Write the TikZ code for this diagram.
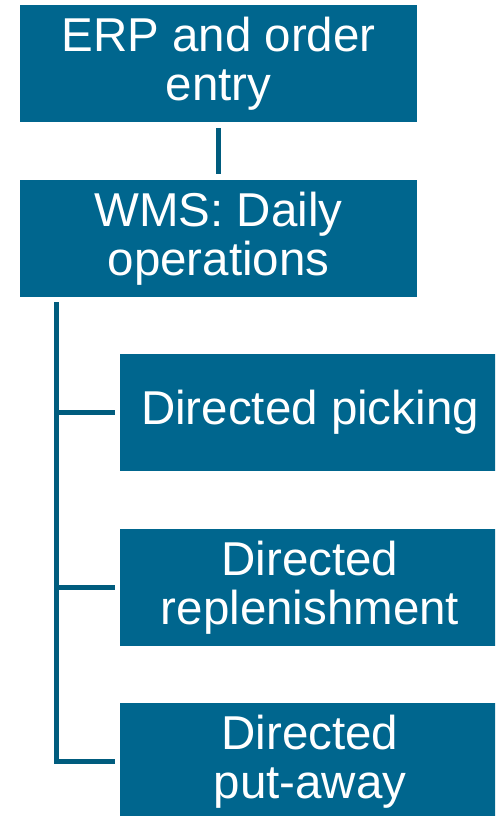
\documentclass[tikz,border=0pt]{standalone}
\usepackage{fontspec}
\setmainfont{Liberation Sans}
\definecolor{boxblue}{RGB}{0,102,142}
\definecolor{lineblue}{RGB}{0,92,126}
\tikzset{
  stagebox/.style={rectangle, fill=boxblue, inner sep=0pt, text=white,
    minimum height=117pt, align=center,
    font=\fontsize{47.5}{49.5}\selectfont},
  topbox/.style={stagebox, minimum width=397pt},
  subbox/.style={stagebox, minimum width=380pt},
  link/.style={draw=lineblue, line width=5pt}
}
\begin{document}
\begin{tikzpicture}[x=1pt, y=-1pt]
  \clip (0,0) rectangle (495,816);
  \fill[white] (0,0) rectangle (495,816);

  % upper chain
  \node[topbox] (erp) at (218.5,63.5) {ERP and order\\entry};
  \node[topbox] (wms) at (218.5,238.5) {WMS: Daily\\operations};

  % directed tasks
  \node[subbox] (pick) at (310,412.5) {Directed picking};
  \node[subbox] (repl) at (310,587.5) {Directed\\replenishment};
  \node[subbox] (put)  at (310,761.5) {Directed\\put-away};

  % connectors
  \draw[link, shorten <=6pt, shorten >=6pt] (erp.south) -- (wms.north);
  \coordinate (spine) at ([xshift=37pt, yshift=-5pt]wms.south west);
  \draw[link, line join=miter, shorten >=5pt] (spine) |- (put.west);
  \draw[link, shorten >=5pt] (spine |- pick.west) -- (pick.west);
  \draw[link, shorten >=5pt] (spine |- repl.west) -- (repl.west);
\end{tikzpicture}
\end{document}
